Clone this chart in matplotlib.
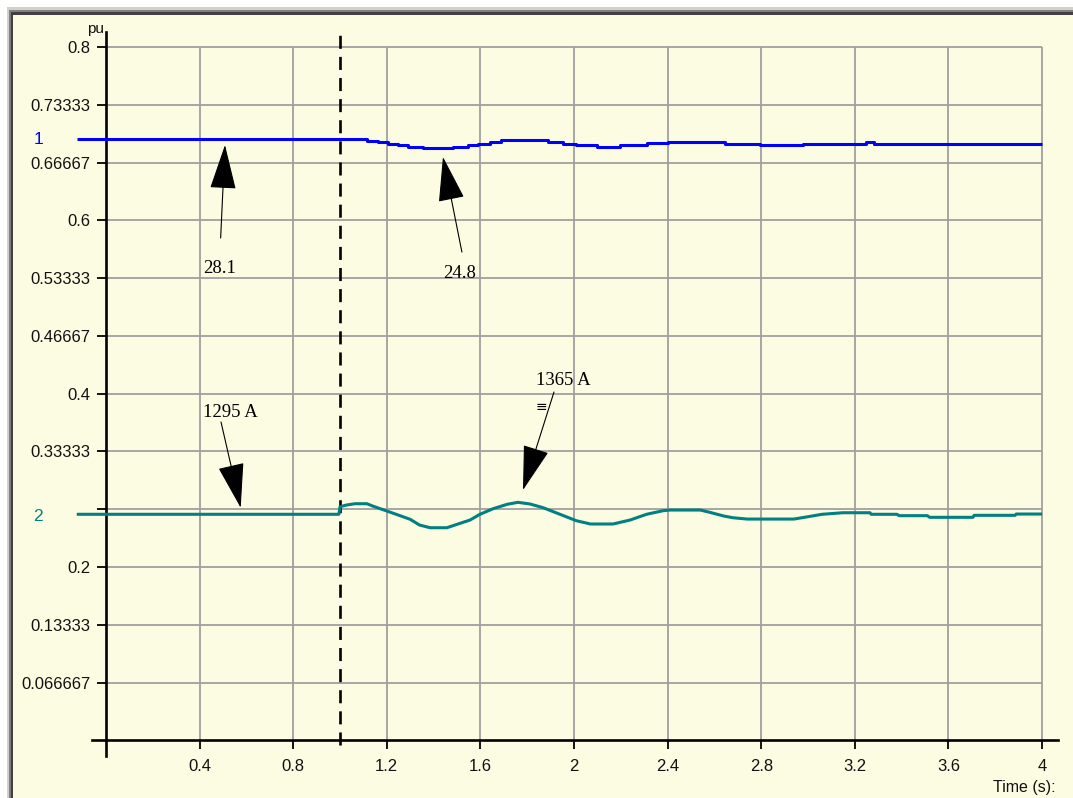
import matplotlib
matplotlib.use("Agg")
import matplotlib.pyplot as plt
from matplotlib.patches import Rectangle

# ---------------- data ----------------
t_blue = [-0.125, 1.00, 1.114, 1.163, 1.206, 1.25, 1.29, 1.356, 1.483, 1.547, 1.59, 1.64,
          1.69, 1.89, 1.953, 2.01, 2.10, 2.196, 2.31, 2.40, 2.645, 2.795, 2.98, 3.25, 3.28, 4.0]
v_blue = [0.6938, 0.6938, 0.6918, 0.6900, 0.6884, 0.6869, 0.6846, 0.6831, 0.6846, 0.6865,
          0.6881, 0.6903, 0.6923, 0.6900, 0.6884, 0.6872, 0.6849, 0.6872, 0.6888, 0.6903,
          0.6881, 0.6865, 0.6884, 0.6907, 0.6884, 0.6884]

t_teal = [-0.125, 0.995, 1.0, 1.028, 1.064, 1.115, 1.14, 1.18, 1.24, 1.30, 1.34, 1.385, 1.457,
          1.50, 1.556, 1.598, 1.654, 1.714, 1.76, 1.812, 1.868, 1.94, 2.01, 2.07, 2.167, 2.24,
          2.31, 2.38, 2.41, 2.54, 2.58, 2.64, 2.68, 2.74, 2.94, 3.0, 3.06, 3.15, 3.265, 3.27,
          3.38, 3.39, 3.51, 3.52, 3.705, 3.71, 3.885, 3.89, 4.0]
v_teal = [0.2608, 0.2608, 0.2695, 0.2715, 0.2730, 0.2730, 0.2703, 0.2665, 0.2608, 0.2550,
          0.2484, 0.2453, 0.2453, 0.2492, 0.2542, 0.2608, 0.2672, 0.2723, 0.2746, 0.2727,
          0.2684, 0.2608, 0.2534, 0.2496, 0.2496, 0.2542, 0.2608, 0.2649, 0.2657, 0.2657,
          0.2631, 0.2588, 0.2568, 0.2553, 0.2553, 0.2580, 0.2608, 0.2626, 0.2626, 0.2608,
          0.2608, 0.2592, 0.2592, 0.2573, 0.2573, 0.2596, 0.2596, 0.2611, 0.2611]

x_ticks = [0.4, 0.8, 1.2, 1.6, 2.0, 2.4, 2.8, 3.2, 3.6, 4.0]
x_labels = ["0.4", "0.8", "1.2", "1.6", "2", "2.4", "2.8", "3.2", "3.6", "4"]
y_ticks = [0.066667, 0.13333, 0.2, 0.26667, 0.33333, 0.4, 0.46667, 0.53333, 0.6, 0.66667, 0.73333, 0.8]
y_labels = ["0.066667", "0.13333", "0.2", "", "0.33333", "0.4", "0.46667", "0.53333", "0.6",
            "0.66667", "0.73333", "0.8"]

event_time = 1.0

# annotations: (text, text position, arrow tail, arrow tip)
annotations = [
    ("28.1",   (0.4145, 0.5440), (0.490, 0.5796), (0.5085, 0.6869)),
    ("24.8",   (1.440, 0.5392),  (1.521, 0.5634), (1.440, 0.6731)),
    ("1295 A", (0.4145, 0.3788), (0.4915, 0.3673), (0.5756, 0.2684)),
    ("1365 A", (1.8376, 0.4157), (1.9145, 0.4019), (1.782, 0.2888)),
]

# ---------------- styles ----------------
BG = "#FCFCE3"
GRID = "#A0A0A0"
BLUE = "#0000FF"
TEAL = "#008080"

W, H = 1073, 798
fig = plt.figure(figsize=(W / 100, H / 100), dpi=100, facecolor="white")


def fr(x, y, w, h):
    # pixel box (top-left origin) to figure fraction
    return (x / W, 1 - (y + h) / H, w / W, h / H)


def rect(x, y, w, h, color):
    l, b, ww, hh = fr(x, y, w, h)
    fig.patches.append(Rectangle((l, b), ww, hh, transform=fig.transFigure,
                                 facecolor=color, edgecolor="none", zorder=-10))


rect(7, 7, W - 7, H - 7, "#D4D0C8")
rect(9, 10, W - 9, H - 10, "#808080")
rect(11, 12, W - 11, H - 12, "#404040")
rect(13, 15, W - 13, H - 15, BG)

ax = fig.add_axes(fr(92, 32, 966, 724))
ax.set_facecolor("none")
ax.set_xlim(-0.0598, 4.0684)
ax.set_ylim(-0.0181, 0.8173)

for s in ("top", "right"):
    ax.spines[s].set_visible(False)
ax.spines["left"].set_position(("data", 0))
ax.spines["bottom"].set_position(("data", 0))
for s in ("left", "bottom"):
    ax.spines[s].set_linewidth(1.9)
    ax.spines[s].set_color("black")

# grid limited to data region
ax.vlines(x_ticks, 0, 0.8, colors=GRID, linewidth=1.3, zorder=1)
ax.hlines(y_ticks, 0, 4.0, colors=GRID, linewidth=1.3, zorder=1)

ax.set_xticks(x_ticks)
ax.set_xticklabels(x_labels)
ax.set_yticks(y_ticks)
ax.set_yticklabels(y_labels)
ax.tick_params(axis="both", direction="out", length=6.2, width=1.3, color="black",
               labelsize=12, labelcolor="#111111")
ax.tick_params(axis="x", pad=7)
ax.tick_params(axis="y", pad=5)
for lab in ax.get_xticklabels() + ax.get_yticklabels():
    lab.set_fontfamily(["Liberation Sans", "DejaVu Sans"])

# event line
ax.plot([event_time, event_time], [-0.005, 0.8173], color="black", linewidth=1.9,
        linestyle=(0, (9.4 / 1.9, 5.8 / 1.9)), zorder=3, clip_on=False)

# series
ax.plot(t_blue, v_blue, color=BLUE, linewidth=2.2, drawstyle="steps-post", zorder=4,
        clip_on=False, solid_capstyle="butt")
ax.plot(t_teal, v_teal, color=TEAL, linewidth=2.2, zorder=4, clip_on=False,
        solid_capstyle="butt")

# series labels
ax.text(-0.29, v_blue[0], "1", color=BLUE, fontsize=12.5, family=["Liberation Sans"],
        ha="center", va="center", clip_on=False)
ax.text(-0.29, v_teal[0] - 0.002, "2", color=TEAL, fontsize=12.5, family=["Liberation Sans"],
        ha="center", va="center", clip_on=False)

# axis captions
ax.text(-0.08, 0.821, "pu", fontsize=11, family=["Liberation Sans"], ha="left",
        va="center", clip_on=False, color="#111111")
ax.text(4.06, -0.0545, "Time (s):", fontsize=11.5, family=["Liberation Sans"], ha="right",
        va="center", clip_on=False, color="#111111")

# annotations
for txt, tpos, tail, tip in annotations:
    ax.text(tpos[0], tpos[1], txt, fontsize=13.5, family=["Liberation Serif"],
            ha="left", va="center", color="black", zorder=6)
    ax.annotate("", xy=tip, xytext=tail,
                arrowprops=dict(arrowstyle="-|>,head_length=29,head_width=8.5",
                                mutation_scale=1, color="black", linewidth=0.8,
                                shrinkA=0, shrinkB=0),
                zorder=6)

ax.text(1.859, 0.3846, "≡", fontsize=10, family=["DejaVu Sans"], ha="center", va="center",
        color="black")

fig.savefig("out.png", dpi=100, facecolor="white")
